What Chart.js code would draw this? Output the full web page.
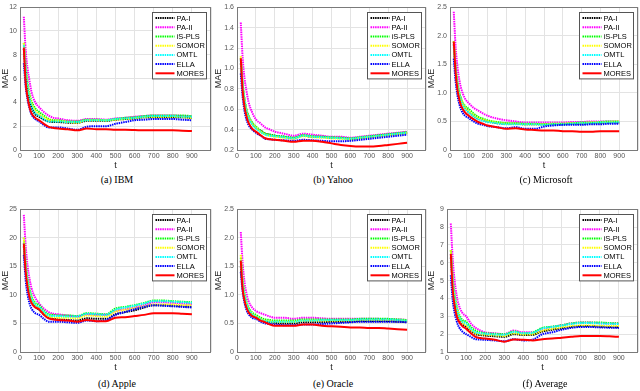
<!DOCTYPE html>
<html>
<head>
<meta charset="utf-8">
<script src="https://cdn.jsdelivr.net/npm/chart.js@4.4.1/dist/chart.umd.min.js"></script>
<style>
  body { margin: 0; background: #fff; width: 640px; height: 391px; position: relative; overflow: hidden; }
  canvas { position: absolute; }
  .cap { position: absolute; font-family: "Liberation Serif", "Times New Roman", serif; font-size: 10px; color: #000; transform: translateX(-50%); white-space: nowrap; }
</style>
</head>
<body>
<canvas id="c-ibm"></canvas>
<canvas id="c-yahoo"></canvas>
<canvas id="c-msft"></canvas>
<canvas id="c-apple"></canvas>
<canvas id="c-oracle"></canvas>
<canvas id="c-avg"></canvas>
<div class="cap" style="left:117px;top:174px">(a) IBM</div>
<div class="cap" style="left:333px;top:174px">(b) Yahoo</div>
<div class="cap" style="left:546px;top:174px">(c) Microsoft</div>
<div class="cap" style="left:117px;top:378px">(d) Apple</div>
<div class="cap" style="left:333px;top:378px">(e) Oracle</div>
<div class="cap" style="left:545px;top:378px">(f) Average</div>
<script>
// time steps (t) at which the curves are sampled
const steps = [20, 30, 40, 50, 60, 80, 100, 125, 150, 175, 200, 250, 300, 350, 400, 450, 500, 550, 600, 650, 700, 750, 800, 850, 900];
const methods = ['PA-I', 'PA-II', 'iS-PLS', 'SOMOR', 'OMTL', 'ELLA', 'MORES'];
const xTicks = [0, 100, 200, 300, 400, 500, 600, 700, 800, 900];

// (a) IBM
const ibmPA1 = [8.5, 6.4, 5.0, 4.2, 3.6, 3.0, 2.8, 2.55, 2.4, 2.35, 2.35, 2.3, 2.3, 2.45, 2.45, 2.45, 2.55, 2.6, 2.65, 2.75, 2.75, 2.75, 2.75, 2.75, 2.7];
const ibmPA2 = [11.2, 8.3, 6.8, 5.8, 4.9, 4.0, 3.6, 3.2, 2.9, 2.7, 2.65, 2.5, 2.45, 2.6, 2.6, 2.55, 2.65, 2.7, 2.8, 2.85, 2.9, 2.9, 2.9, 2.85, 2.8];
const ibmISPLS = [9.0, 7.0, 5.6, 4.7, 4.1, 3.5, 3.2, 2.9, 2.6, 2.5, 2.5, 2.4, 2.4, 2.55, 2.55, 2.5, 2.6, 2.7, 2.75, 2.85, 2.9, 2.9, 2.9, 2.9, 2.85];
const ibmSOMOR = [9.0, 6.8, 5.4, 4.5, 3.9, 3.3, 3.0, 2.75, 2.55, 2.45, 2.45, 2.35, 2.3, 2.5, 2.5, 2.5, 2.55, 2.6, 2.65, 2.75, 2.75, 2.8, 2.8, 2.75, 2.7];
const ibmOMTL = [8.8, 6.6, 5.2, 4.3, 3.7, 3.1, 2.9, 2.6, 2.4, 2.4, 2.4, 2.35, 2.35, 2.5, 2.5, 2.5, 2.6, 2.65, 2.7, 2.8, 2.85, 2.85, 2.85, 2.8, 2.8];
const ibmELLA = [7.3, 5.3, 4.2, 3.5, 3.0, 2.6, 2.4, 2.1, 1.9, 1.9, 1.9, 1.8, 1.7, 1.95, 2.0, 2.0, 2.2, 2.35, 2.5, 2.55, 2.6, 2.6, 2.6, 2.55, 2.5];
const ibmMORES = [8.6, 5.6, 4.4, 3.6, 3.1, 2.7, 2.5, 2.2, 1.95, 1.85, 1.8, 1.75, 1.65, 1.8, 1.75, 1.75, 1.7, 1.7, 1.68, 1.65, 1.65, 1.65, 1.65, 1.62, 1.6];

// (b) Yahoo
const yahooPA1 = [1.05, 0.82, 0.68, 0.59, 0.53, 0.46, 0.42, 0.39, 0.36, 0.35, 0.34, 0.33, 0.32, 0.34, 0.33, 0.33, 0.32, 0.32, 0.31, 0.32, 0.33, 0.34, 0.35, 0.36, 0.37];
const yahooPA2 = [1.45, 1.1, 0.9, 0.78, 0.68, 0.57, 0.5, 0.46, 0.42, 0.4, 0.38, 0.36, 0.34, 0.36, 0.35, 0.34, 0.33, 0.33, 0.32, 0.33, 0.34, 0.35, 0.36, 0.37, 0.38];
const yahooISPLS = [1.1, 0.85, 0.7, 0.6, 0.54, 0.47, 0.43, 0.39, 0.36, 0.35, 0.34, 0.33, 0.32, 0.345, 0.335, 0.33, 0.325, 0.32, 0.315, 0.325, 0.335, 0.345, 0.355, 0.365, 0.375];
const yahooSOMOR = [1.12, 0.84, 0.69, 0.59, 0.53, 0.46, 0.42, 0.38, 0.35, 0.34, 0.33, 0.32, 0.31, 0.335, 0.325, 0.32, 0.315, 0.31, 0.305, 0.315, 0.325, 0.335, 0.345, 0.355, 0.365];
const yahooOMTL = [1.08, 0.83, 0.68, 0.58, 0.52, 0.45, 0.41, 0.375, 0.35, 0.34, 0.335, 0.325, 0.315, 0.34, 0.33, 0.325, 0.32, 0.315, 0.31, 0.32, 0.33, 0.34, 0.35, 0.36, 0.37];
const yahooELLA = [0.95, 0.72, 0.58, 0.5, 0.45, 0.4, 0.37, 0.34, 0.31, 0.305, 0.3, 0.295, 0.29, 0.3, 0.295, 0.29, 0.285, 0.285, 0.29, 0.3, 0.31, 0.32, 0.33, 0.34, 0.35];
const yahooMORES = [1.1, 0.78, 0.62, 0.53, 0.47, 0.41, 0.38, 0.345, 0.315, 0.305, 0.3, 0.29, 0.28, 0.29, 0.29, 0.28, 0.265, 0.25, 0.24, 0.235, 0.235, 0.24, 0.25, 0.26, 0.27];

// (c) Microsoft
const msftPA1 = [1.85, 1.4, 1.15, 0.98, 0.87, 0.74, 0.66, 0.6, 0.55, 0.52, 0.5, 0.47, 0.46, 0.46, 0.45, 0.45, 0.45, 0.45, 0.45, 0.46, 0.46, 0.47, 0.47, 0.48, 0.48];
const msftPA2 = [2.42, 1.8, 1.45, 1.22, 1.07, 0.9, 0.82, 0.74, 0.69, 0.64, 0.6, 0.55, 0.52, 0.5, 0.48, 0.48, 0.48, 0.48, 0.48, 0.49, 0.49, 0.5, 0.5, 0.5, 0.5];
const msftISPLS = [1.9, 1.45, 1.18, 1.0, 0.89, 0.77, 0.72, 0.64, 0.58, 0.55, 0.52, 0.49, 0.47, 0.47, 0.46, 0.46, 0.45, 0.46, 0.46, 0.47, 0.48, 0.48, 0.49, 0.5, 0.5];
const msftSOMOR = [1.9, 1.42, 1.15, 0.98, 0.87, 0.74, 0.68, 0.61, 0.56, 0.53, 0.51, 0.48, 0.46, 0.46, 0.45, 0.45, 0.45, 0.46, 0.46, 0.47, 0.47, 0.48, 0.48, 0.49, 0.5];
const msftOMTL = [1.8, 1.38, 1.12, 0.96, 0.85, 0.72, 0.66, 0.59, 0.54, 0.51, 0.49, 0.47, 0.45, 0.45, 0.45, 0.45, 0.44, 0.45, 0.45, 0.46, 0.47, 0.47, 0.48, 0.48, 0.49];
const msftELLA = [1.6, 1.2, 0.95, 0.8, 0.7, 0.6, 0.56, 0.5, 0.46, 0.44, 0.42, 0.4, 0.38, 0.4, 0.37, 0.37, 0.41, 0.43, 0.44, 0.44, 0.44, 0.45, 0.45, 0.46, 0.46];
const msftMORES = [1.9, 1.35, 1.05, 0.88, 0.77, 0.66, 0.6, 0.54, 0.49, 0.46, 0.43, 0.4, 0.37, 0.38, 0.36, 0.35, 0.34, 0.34, 0.33, 0.33, 0.32, 0.32, 0.33, 0.33, 0.33];

// (d) Apple
const applePA1 = [18.5, 14.5, 12.0, 10.5, 9.4, 8.0, 7.4, 6.6, 6.0, 5.8, 5.7, 5.6, 5.5, 5.9, 5.8, 5.8, 6.6, 7.0, 7.3, 7.8, 8.2, 8.2, 8.1, 8.0, 7.9];
const applePA2 = [24.0, 18.5, 15.0, 12.8, 11.2, 9.5, 8.5, 7.6, 7.0, 6.7, 6.6, 6.4, 6.2, 6.6, 6.5, 6.5, 7.2, 7.5, 7.8, 8.2, 8.7, 8.7, 8.6, 8.5, 8.4];
const appleISPLS = [20.0, 15.5, 12.8, 11.0, 9.8, 8.6, 8.2, 7.2, 6.6, 6.5, 6.4, 6.4, 6.3, 6.8, 6.7, 6.6, 7.6, 7.9, 8.2, 8.6, 9.0, 9.0, 8.9, 8.8, 8.7];
const appleSOMOR = [20.0, 15.0, 12.3, 10.6, 9.5, 8.2, 7.7, 6.8, 6.2, 6.1, 6.0, 6.0, 5.9, 6.4, 6.3, 6.2, 7.1, 7.4, 7.7, 8.0, 8.3, 8.3, 8.3, 8.2, 8.2];
const appleOMTL = [19.0, 14.8, 12.3, 10.6, 9.5, 8.3, 7.9, 7.0, 6.4, 6.3, 6.3, 6.2, 6.2, 6.7, 6.6, 6.5, 7.4, 7.8, 8.1, 8.5, 8.9, 8.9, 8.8, 8.7, 8.6];
const appleELLA = [17.0, 12.5, 10.0, 8.5, 7.6, 6.8, 6.5, 5.8, 5.3, 5.3, 5.3, 5.2, 5.1, 5.5, 5.4, 5.6, 6.5, 7.0, 7.5, 7.9, 8.2, 8.1, 8.0, 7.9, 7.8];
const appleMORES = [19.0, 14.0, 11.3, 9.6, 8.6, 7.8, 7.5, 6.5, 5.9, 5.7, 5.6, 5.5, 5.3, 5.6, 5.4, 5.4, 6.0, 6.1, 6.3, 6.5, 6.8, 6.8, 6.8, 6.7, 6.6];

// (e) Oracle
const oraclePA1 = [1.5, 1.15, 0.95, 0.82, 0.74, 0.65, 0.6, 0.56, 0.53, 0.52, 0.51, 0.5, 0.5, 0.52, 0.52, 0.52, 0.53, 0.53, 0.53, 0.54, 0.54, 0.54, 0.54, 0.53, 0.53];
const oraclePA2 = [2.1, 1.55, 1.22, 1.03, 0.9, 0.78, 0.72, 0.68, 0.65, 0.62, 0.6, 0.6, 0.58, 0.6, 0.6, 0.59, 0.58, 0.58, 0.58, 0.58, 0.58, 0.58, 0.57, 0.57, 0.56];
const oracleISPLS = [1.65, 1.25, 1.02, 0.88, 0.79, 0.69, 0.65, 0.6, 0.57, 0.56, 0.55, 0.55, 0.55, 0.57, 0.57, 0.57, 0.57, 0.57, 0.57, 0.58, 0.58, 0.58, 0.58, 0.57, 0.56];
const oracleSOMOR = [1.7, 1.25, 1.0, 0.86, 0.77, 0.67, 0.63, 0.58, 0.55, 0.54, 0.53, 0.53, 0.53, 0.55, 0.55, 0.55, 0.55, 0.55, 0.55, 0.56, 0.56, 0.56, 0.56, 0.55, 0.55];
const oracleOMTL = [1.6, 1.2, 0.98, 0.85, 0.76, 0.66, 0.62, 0.57, 0.54, 0.53, 0.53, 0.53, 0.53, 0.55, 0.55, 0.56, 0.56, 0.56, 0.56, 0.57, 0.57, 0.57, 0.57, 0.56, 0.55];
const oracleELLA = [1.4, 1.05, 0.86, 0.74, 0.67, 0.6, 0.58, 0.53, 0.5, 0.49, 0.48, 0.47, 0.47, 0.48, 0.48, 0.49, 0.5, 0.51, 0.52, 0.53, 0.53, 0.53, 0.53, 0.53, 0.52];
const oracleMORES = [1.6, 1.1, 0.9, 0.78, 0.7, 0.63, 0.6, 0.55, 0.52, 0.48, 0.46, 0.46, 0.46, 0.48, 0.48, 0.46, 0.45, 0.44, 0.43, 0.43, 0.42, 0.42, 0.41, 0.4, 0.39];

// (f) Average
const avgPA1 = [6.3, 4.8, 4.0, 3.4, 3.05, 2.6, 2.4, 2.2, 2.0, 1.95, 1.92, 1.88, 1.85, 2.0, 1.95, 1.97, 2.15, 2.25, 2.32, 2.4, 2.45, 2.45, 2.42, 2.4, 2.38];
const avgPA2 = [8.2, 6.2, 5.0, 4.2, 3.7, 3.2, 3.0, 2.6, 2.35, 2.2, 2.1, 2.05, 2.0, 2.2, 2.1, 2.1, 2.3, 2.4, 2.5, 2.6, 2.65, 2.65, 2.62, 2.6, 2.6];
const avgISPLS = [6.7, 5.1, 4.2, 3.6, 3.2, 2.8, 2.7, 2.4, 2.2, 2.1, 2.05, 2.02, 2.0, 2.15, 2.05, 2.1, 2.35, 2.42, 2.5, 2.6, 2.65, 2.65, 2.65, 2.62, 2.6];
const avgSOMOR = [6.7, 5.0, 4.1, 3.5, 3.1, 2.65, 2.5, 2.25, 2.05, 2.0, 1.97, 1.93, 1.9, 2.05, 1.98, 2.0, 2.2, 2.3, 2.38, 2.45, 2.48, 2.48, 2.47, 2.45, 2.45];
const avgOMTL = [6.5, 4.9, 4.05, 3.45, 3.1, 2.7, 2.6, 2.3, 2.1, 2.05, 2.02, 1.98, 1.97, 2.12, 2.05, 2.08, 2.32, 2.4, 2.48, 2.57, 2.62, 2.62, 2.6, 2.58, 2.57];
const avgELLA = [5.3, 3.9, 3.2, 2.75, 2.45, 2.15, 2.0, 1.85, 1.72, 1.7, 1.68, 1.65, 1.6, 1.72, 1.65, 1.7, 2.0, 2.1, 2.25, 2.35, 2.4, 2.4, 2.38, 2.36, 2.35];
const avgMORES = [6.5, 4.5, 3.6, 3.05, 2.75, 2.45, 2.3, 2.05, 1.85, 1.78, 1.75, 1.68, 1.58, 1.7, 1.68, 1.65, 1.72, 1.75, 1.8, 1.85, 1.9, 1.9, 1.9, 1.88, 1.85];

const lineColors = ['#000000', '#ff00ff', '#00ff00', '#ffff00', '#00ffff', '#0000ff', '#ff0000'];

// axes box + legend drawn inside the plot area, matlab style
const boxLegend = {
    id: 'boxLegend',
    afterDraw(chart) {
        const ctx = chart.ctx;
        const a = chart.chartArea;
        ctx.save();
        ctx.setLineDash([]);
        ctx.strokeStyle = '#7a7a7a';
        ctx.lineWidth = 1;
        ctx.strokeRect(Math.round(a.left) + 0.5, Math.round(a.top) + 0.5, Math.round(a.right - a.left) - 1, Math.round(a.bottom - a.top));

        const w = 54, rowH = 9.2;
        const h = rowH * chart.data.datasets.length + 2;
        const x0 = Math.round(a.right - w - 5) + 0.5;
        const y0 = Math.round(a.top + 5) + 0.5;
        ctx.fillStyle = '#fff';
        ctx.fillRect(x0, y0, w, h);
        ctx.strokeStyle = '#555';
        ctx.strokeRect(x0, y0, w, h);
        ctx.font = '7.5px "Liberation Sans", Arial, sans-serif';
        ctx.textBaseline = 'middle';
        chart.data.datasets.forEach((ds, i) => {
            const y = y0 + 1 + rowH * (i + 0.5);
            ctx.beginPath();
            ctx.setLineDash(ds.borderDash || []);
            ctx.strokeStyle = ds.borderColor;
            ctx.lineWidth = ds.borderWidth;
            ctx.moveTo(x0 + 3, y);
            ctx.lineTo(x0 + 22, y);
            ctx.stroke();
            ctx.fillStyle = '#000';
            ctx.fillText(ds.label, x0 + 24, y + 0.5);
        });
        ctx.restore();
    }
};

function makeChart(id, pos, series, yMin, yMax, yStep) {
    const canvas = document.getElementById(id);
    canvas.width = pos.w;
    canvas.height = 172;
    canvas.style.left = pos.left + 'px';
    canvas.style.top = pos.top + 'px';

    const datasets = series.map((vals, i) => ({
        label: methods[i],
        data: vals.map((v, j) => ({ x: steps[j], y: v })),
        borderColor: lineColors[i],
        borderWidth: 2,
        borderDash: i === 6 ? [] : [1.5, 0.8],
        pointRadius: 0,
        fill: false,
        tension: 0,
        cubicInterpolationMode: 'monotone',
        order: 6 - i
    }));

    const tickFont = { family: '"Liberation Sans", Arial, sans-serif', size: 7 };
    const titleFont = { family: '"Liberation Sans", Arial, sans-serif', size: 9 };

    return new Chart(canvas.getContext('2d'), {
        type: 'line',
        data: { datasets: datasets },
        options: {
            responsive: false,
            animation: false,
            devicePixelRatio: 1,
            layout: { padding: { left: 0, right: 2, top: 3, bottom: 0 } },
            plugins: { legend: { display: false }, tooltip: { enabled: false } },
            scales: {
                x: {
                    type: 'linear',
                    min: 0,
                    max: 1000,
                    afterBuildTicks: (scale) => { scale.ticks = xTicks.concat([1000]).map(v => ({ value: v })); },
                    afterFit: (scale) => { scale.height = 22; },
                    ticks: {
                        callback: (v) => v === 1000 ? '' : v,
                        font: tickFont,
                        color: '#555',
                        padding: 2,
                        maxRotation: 0
                    },
                    grid: { color: '#e3e3e3', drawTicks: false },
                    border: { display: false },
                    title: { display: true, text: 't', font: titleFont, color: '#222', padding: { top: 0, bottom: 1 } }
                },
                y: {
                    min: yMin,
                    max: yMax,
                    afterFit: (scale) => { scale.width = pos.yw; },
                    ticks: { stepSize: yStep, font: tickFont, color: '#555', padding: 3 },
                    grid: { color: '#e3e3e3', drawTicks: false },
                    border: { display: false },
                    title: { display: true, text: 'MAE', font: titleFont, color: '#222', padding: { top: 0, bottom: 0 } }
                }
            }
        },
        plugins: [boxLegend]
    });
}

makeChart('c-ibm', { left: 0, top: 0, w: 213, yw: 20 },
    [ibmPA1, ibmPA2, ibmISPLS, ibmSOMOR, ibmOMTL, ibmELLA, ibmMORES], 0, 12, 2);
makeChart('c-yahoo', { left: 213, top: 0, w: 215, yw: 24 },
    [yahooPA1, yahooPA2, yahooISPLS, yahooSOMOR, yahooOMTL, yahooELLA, yahooMORES], 0.2, 1.6, 0.2);
makeChart('c-msft', { left: 426, top: 0, w: 214, yw: 24 },
    [msftPA1, msftPA2, msftISPLS, msftSOMOR, msftOMTL, msftELLA, msftMORES], 0, 2.5, 0.5);
makeChart('c-apple', { left: 0, top: 202, w: 213, yw: 20 },
    [applePA1, applePA2, appleISPLS, appleSOMOR, appleOMTL, appleELLA, appleMORES], 0, 25, 5);
makeChart('c-oracle', { left: 213, top: 202, w: 215, yw: 24 },
    [oraclePA1, oraclePA2, oracleISPLS, oracleSOMOR, oracleOMTL, oracleELLA, oracleMORES], 0.0, 2.5, 0.5);
makeChart('c-avg', { left: 426, top: 202, w: 214, yw: 21 },
    [avgPA1, avgPA2, avgISPLS, avgSOMOR, avgOMTL, avgELLA, avgMORES], 1, 9, 1);
</script>
</body>
</html>
